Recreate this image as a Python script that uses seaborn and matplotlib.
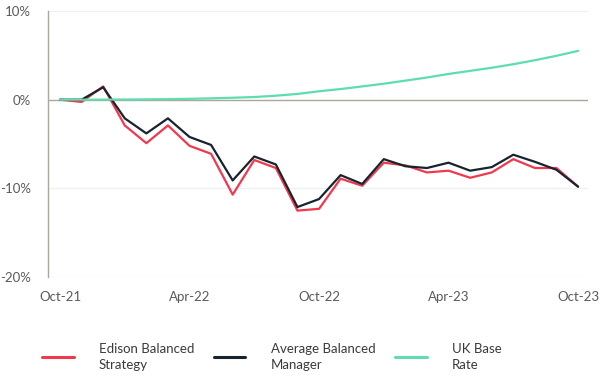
import matplotlib
matplotlib.use("Agg")
import matplotlib.pyplot as plt
import seaborn as sns
import pandas as pd
import numpy as np

# monthly points, Oct-21 .. Oct-23
months = pd.date_range("2021-10-01", "2023-10-01", freq="MS")
edison = [0.0, -0.25, 1.5, -2.9, -4.9, -2.9, -5.2, -6.1, -10.7, -6.8, -7.7, -12.5, -12.3,
          -8.9, -9.7, -7.1, -7.4, -8.2, -8.0, -8.8, -8.2, -6.7, -7.7, -7.7, -9.8]
average = [0.0, 0.0, 1.4, -2.1, -3.8, -2.1, -4.2, -5.1, -9.1, -6.4, -7.3, -12.1, -11.2,
           -8.5, -9.5, -6.7, -7.5, -7.7, -7.1, -8.0, -7.6, -6.2, -7.0, -7.9, -9.8]
base_rate = [0.0, 0.0, 0.01, 0.02, 0.04, 0.06, 0.1, 0.15, 0.22, 0.3, 0.45, 0.65, 0.95,
             1.2, 1.5, 1.8, 2.15, 2.5, 2.9, 3.25, 3.6, 4.0, 4.45, 4.95, 5.5]
series_names = ["Edison Balanced\nStrategy", "Average Balanced\nManager", "UK Base\nRate"]
colors = ["#F2384E", "#17242F", "#5EDDAE"]
xtick_labels = ["Oct-21", "Apr-22", "Oct-22", "Apr-23", "Oct-23"]

idx = np.arange(len(months))
df = pd.DataFrame({
    "idx": np.tile(idx, 3),
    "value": edison + average + base_rate,
    "series": np.repeat(series_names, len(idx)),
})

sns.set_style("white")
plt.rcParams["font.family"] = ["Lato", "DejaVu Sans"]

fig = plt.figure(figsize=(6, 3.92), dpi=100)
ax = fig.add_axes([0.08, 0.293, 0.9, 0.679])

for v in [10, -10, -20]:
    ax.axhline(v, color="#f0f0f0", lw=1, zorder=0)
ax.axhline(0, color="#aaa79b", lw=1, zorder=1)

sns.lineplot(data=df, x="idx", y="value", hue="series", palette=colors,
             hue_order=series_names, lw=1.6, ax=ax, legend=True)

ax.set_xlim(-0.556, 24.46)
ax.set_ylim(-20, 10)
ax.set_yticks([10, 0, -10, -20])
ax.set_yticklabels(["10%", "0%", "-10%", "-20%"])
ax.set_xticks([0, 6, 12, 18, 24])
ax.set_xticklabels(xtick_labels)
ax.tick_params(axis="both", length=0, labelsize=9.5, labelcolor="#5a5a5a")
ax.tick_params(axis="y", pad=12)
ax.tick_params(axis="x", pad=10)
ax.set_xlabel("")
ax.set_ylabel("")
for s in ["top", "right", "bottom"]:
    ax.spines[s].set_visible(False)
ax.spines["left"].set_color("#aaa79b")
ax.spines["left"].set_linewidth(1)

handles, labels = ax.get_legend_handles_labels()
ax.get_legend().remove()
leg = fig.legend(handles, labels, loc="center left", bbox_to_anchor=(0.05, 0.09),
                 ncol=3, frameon=False, fontsize=9.5, handlelength=2.4,
                 handletextpad=1.9, columnspacing=1.5, labelcolor="#3a3a3a")
for line in leg.get_lines():
    line.set_linewidth(2.2)
for t in leg.get_texts():
    t.set_linespacing(1.4)

fig.savefig("out.png", dpi=100)
